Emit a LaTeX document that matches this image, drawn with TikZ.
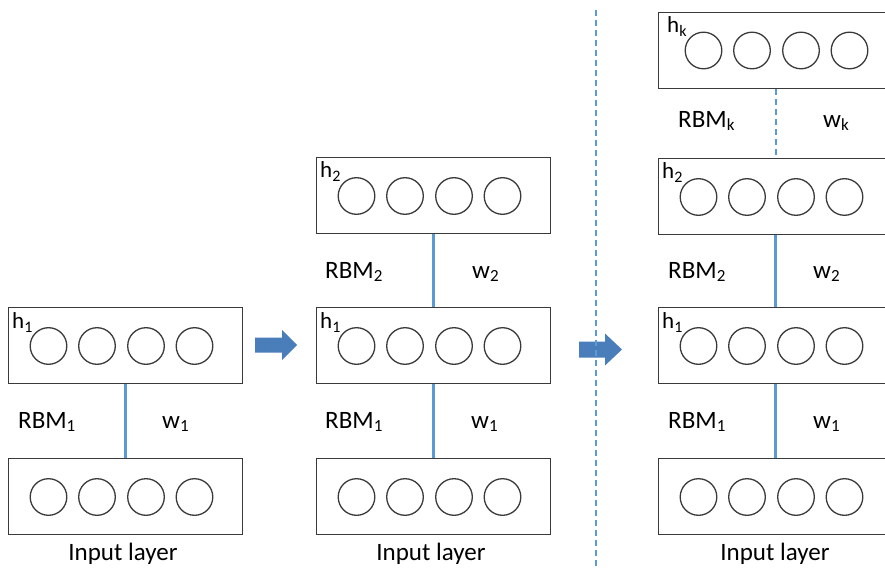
\documentclass[tikz,border=0pt]{standalone}
\usepackage{fontspec}
\setmainfont{Carlito}
\definecolor{boxgray}{HTML}{3A3A3A}
\definecolor{linkblue}{HTML}{5B9BD5}
\definecolor{arrowblue}{HTML}{4A7EBB}
\newcommand\lsub[1]{\raisebox{-3pt}{\fontsize{17}{17}\selectfont #1}}
\newcommand\hsub[1]{\raisebox{-4pt}{\fontsize{16}{16}\selectfont #1}}
\tikzset{
  layerbox/.style={draw=boxgray, line width=1.3pt, minimum width=234pt, minimum height=76pt, inner sep=0pt, anchor=north west},
  unit/.style={circle, draw=boxgray, line width=1.3pt, minimum size=36.6pt, inner sep=0pt},
  link/.style={draw=linkblue, line width=2.6pt},
  dashlink/.style={draw=linkblue, line width=1.8pt, dash pattern=on 6pt off 4pt},
  lbl/.style={font=\fontsize{25}{30}\selectfont, inner sep=0pt, anchor=base west, text=black},
  inlbl/.style={font=\fontsize{25}{30}\selectfont, inner sep=0pt, anchor=base, text=black},
  hlbl/.style={font=\fontsize{23}{26}\selectfont, inner sep=0pt, anchor=base west, text=black},
  blockarrow/.style={fill=arrowblue, draw=none}
}
\begin{document}
\begin{tikzpicture}[x=1pt, y=-1pt]
\useasboundingbox (0,0) rectangle (885,569);
\clip (0,0) rectangle (885,569);
\fill[white] (0,0) rectangle (885,569);

% boxes
\node[layerbox] (inA) at (8,458) {};
\node[layerbox] (hA) at (8,307) {};
\node[layerbox] (inB) at (316,458) {};
\node[layerbox] (hB) at (316,307) {};
\node[layerbox] (hhB) at (316,157) {};
\node[layerbox] (inC) at (658,458) {};
\node[layerbox] (hC) at (658,307) {};
\node[layerbox] (hhC) at (658,158) {};
\node[layerbox] (hkC) at (658,12) {};

% units
\foreach \b in {inA,hA,inB,hB,hhB,inC,hC,hhC}{
  \foreach \dx [count=\i] in {40.5,89,138,186.5}{
    \node[unit] (\b-u\i) at ([shift={(\dx,39)}]\b.north west) {};
  }
}
\foreach \dx [count=\i] in {45.5,94,143,191.5}{
  \node[unit] (hkC-u\i) at ([shift={(\dx,38.5)}]hkC.north west) {};
}

% layer labels
\node[hlbl] (lhA) at (12,328) {h\hsub{1}};
\node[hlbl] (lhB) at (320,328) {h\hsub{1}};
\node[hlbl] (lhhB) at (320,178) {h\hsub{2}};
\node[hlbl] (lhC) at (662,328) {h\hsub{1}};
\node[hlbl] (lhhC) at (662,179) {h\hsub{2}};
\node[hlbl] (lhkC) at (667,33) {h\hsub{k}};

% connectors
\draw[link] (hA.south) -- (inA.north);
\draw[link] (hB.south) -- (inB.north);
\draw[link] (hhB.south) -- (hB.north);
\draw[link] (hC.south) -- (inC.north);
\draw[link] (hhC.south) -- (hC.north);
\draw[dashlink] (hkC.south) -- (hhC.north);

% RBM / w labels
\node[lbl] (rA) at (18,428) {RBM\lsub{1}};
\node[lbl] (wA) at (162,428) {w\lsub{1}};
\node[lbl] (rB) at (325,428) {RBM\lsub{1}};
\node[lbl] (wB) at (471,428) {w\lsub{1}};
\node[lbl] (rrB) at (325,278) {RBM\lsub{2}};
\node[lbl] (wwB) at (472,278) {w\lsub{2}};
\node[lbl] (rC) at (668,428) {RBM\lsub{1}};
\node[lbl] (wC) at (813,428) {w\lsub{1}};
\node[lbl] (rrC) at (668,278) {RBM\lsub{2}};
\node[lbl] (wwC) at (813,278) {w\lsub{2}};
\node[lbl] (rkC) at (678,128) {RBM\lsub{k}};
\node[lbl] (wkC) at (823,128) {w\lsub{k}};

% input layer labels
\node[inlbl] (iA) at (123,560) {Input layer};
\node[inlbl] (iB) at (431,560) {Input layer};
\node[inlbl] (iC) at (775,560) {Input layer};

% block arrows
\fill[blockarrow] (255,337.5) -- (282,337.5) -- (282,330) -- (297,345) -- (282,360) -- (282,352.5) -- (255,352.5) -- cycle;
\fill[blockarrow] (579,341.5) -- (605,341.5) -- (605,333.5) -- (622,349.5) -- (605,365.5) -- (605,357.5) -- (579,357.5) -- cycle;

% divider
\coordinate (divtop) at (596,10);
\coordinate (divbot) at (596,569);
\draw[dashlink] (divtop) -- (divbot);
\end{tikzpicture}
\end{document}
